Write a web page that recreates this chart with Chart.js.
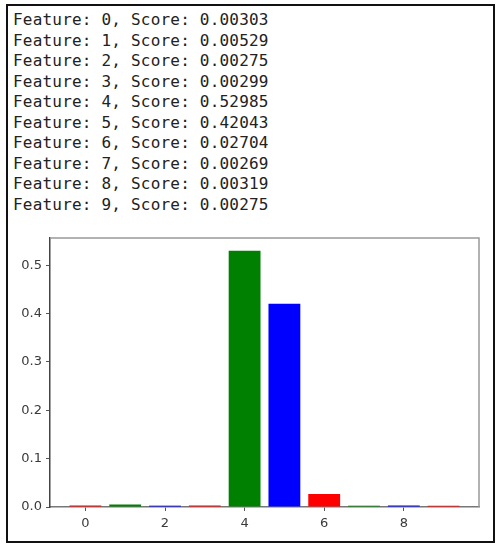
<!DOCTYPE html>
<html>
<head>
<meta charset="utf-8">
<script src="https://cdn.jsdelivr.net/npm/chart.js@4.4.1/dist/chart.umd.min.js"></script>
<style>
    html, body {margin: 0; padding: 0; background: #fff; width: 502px; height: 550px; overflow: hidden;}
    #frame {position: absolute; left: 6px; top: 4px; width: 489px; height: 539px; box-sizing: border-box; border: 2px solid #111;}
    #scores {position: absolute; left: 13px; top: 10px; font-family: "DejaVu Sans Mono", monospace; font-size: 16px; line-height: 20.55px; letter-spacing: 0.2px; color: #222; white-space: pre;}
</style>
</head>
<body>
<div id="frame"></div>
<div id="scores"></div>
<canvas id="scoreChart" width="502" height="330"></canvas>
<script>
const features = [0, 1, 2, 3, 4, 5, 6, 7, 8, 9];
const scores = [0.00303, 0.00529, 0.00275, 0.00299, 0.52985, 0.42043, 0.02704, 0.00269, 0.00319, 0.00275];
const xTicks = [0, 2, 4, 6, 8];
const yTicks = [0.0, 0.1, 0.2, 0.3, 0.4, 0.5];

// 색상 순환 (red, green, blue)
const colorCycle = ['#ff0000', '#008000', '#0000ff'];

// 상단 텍스트 출력
document.getElementById('scores').textContent = features
    .map((f, i) => `Feature: ${f}, Score: ${scores[i].toFixed(5)}`)
    .join('\n');

const canvas = document.getElementById('scoreChart');
canvas.style.position = 'absolute';
canvas.style.left = '0px';
canvas.style.top = '220px';

// 위/오른쪽 테두리
const spines = {
    id: 'spines',
    afterDatasetsDraw(chart) {
        const {ctx, chartArea: a} = chart;
        ctx.save();
        ctx.strokeStyle = '#999';
        ctx.lineWidth = 1.5;
        ctx.beginPath();
        ctx.moveTo(a.left, a.top);
        ctx.lineTo(a.right, a.top);
        ctx.lineTo(a.right, a.bottom);
        ctx.stroke();
        ctx.restore();
    }
};

const tickFont = {family: 'DejaVu Sans', size: 13};

new Chart(canvas.getContext('2d'), {
    type: 'bar',
    data: {
        datasets: [{
            data: features.map((f, i) => ({x: f, y: scores[i]})),
            backgroundColor: features.map(f => colorCycle[f % 3]),
            borderWidth: 0,
            categoryPercentage: 1,
            barPercentage: 0.8
        }]
    },
    options: {
        responsive: false,
        animation: false,
        layout: {padding: {left: 0, right: 23, top: 18, bottom: 0}},
        plugins: {legend: {display: false}, tooltip: {enabled: false}},
        scales: {
            x: {
                type: 'linear',
                min: -0.89,
                max: 9.89,
                offset: false,
                afterBuildTicks: (s) => { s.ticks = xTicks.map(v => ({value: v})); },
                afterFit: (s) => { s.height = 43; },
                grid: {offset: false, drawOnChartArea: false, drawTicks: true, tickLength: 4, tickColor: '#555'},
                border: {color: '#777', width: 1.5},
                ticks: {font: tickFont, color: '#3a3a3a', padding: 5, maxRotation: 0, callback: v => String(v)}
            },
            y: {
                min: 0,
                max: 0.5563,
                afterBuildTicks: (s) => { s.ticks = yTicks.map(v => ({value: v})); },
                afterFit: (s) => { s.width = 50; },
                grid: {drawOnChartArea: false, drawTicks: true, tickLength: 4, tickColor: '#555'},
                border: {color: '#444', width: 1.5},
                ticks: {font: tickFont, color: '#3a3a3a', padding: 4, callback: v => v.toFixed(1)}
            }
        }
    },
    plugins: [spines]
});
</script>
</body>
</html>
